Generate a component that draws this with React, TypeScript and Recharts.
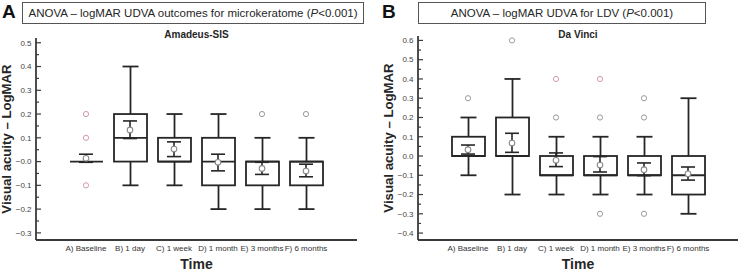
import { ComposedChart, Bar, Scatter, ErrorBar, XAxis, YAxis, Label } from 'recharts';

const FONT = '"Liberation Sans", Arial, sans-serif';
const INK = '#262626';
const AXIS = '#3a3a3a';

const categories = ['A) Baseline', 'B) 1 day', 'C) 1 week', 'D) 1 month', 'E) 3 months', 'F) 6 months'];

// Amadeus-SIS (microkeratome)
const sisWhiskerLow = [0, -0.1, -0.1, -0.2, -0.2, -0.2];
const sisQ1 = [0, 0, 0, -0.1, -0.1, -0.1];
const sisMedian = [0, 0.1, 0, 0, 0, 0];
const sisQ3 = [0, 0.2, 0.1, 0.1, 0, 0];
const sisWhiskerHigh = [0, 0.4, 0.2, 0.2, 0.1, 0.1];
const sisMean = [0.014, 0.133, 0.053, -0.003, -0.029, -0.04];
const sisCiLow = [-0.003, 0.097, 0.021, -0.039, -0.054, -0.064];
const sisCiHigh = [0.031, 0.171, 0.083, 0.031, -0.003, -0.011];
const sisOutliers = [
  { cat: 0, value: 0.2, far: true },
  { cat: 0, value: 0.1, far: true },
  { cat: 0, value: -0.1, far: true },
  { cat: 4, value: 0.2, far: false },
  { cat: 5, value: 0.2, far: false },
];

// Da Vinci (LDV)
const ldvWhiskerLow = [-0.1, -0.2, -0.2, -0.2, -0.2, -0.3];
const ldvQ1 = [0, 0, -0.1, -0.1, -0.1, -0.2];
const ldvMedian = [0, 0, -0.1, -0.1, -0.1, -0.1];
const ldvQ3 = [0.1, 0.2, 0, 0, 0, 0];
const ldvWhiskerHigh = [0.2, 0.4, 0.1, 0.1, 0.1, 0.3];
const ldvMean = [0.033, 0.067, -0.022, -0.047, -0.071, -0.092];
const ldvCiLow = [0.01, 0.019, -0.055, -0.083, -0.102, -0.125];
const ldvCiHigh = [0.057, 0.118, 0.016, -0.003, -0.036, -0.057];
const ldvOutliers = [
  { cat: 0, value: 0.3, far: false },
  { cat: 1, value: 0.6, far: false },
  { cat: 2, value: 0.4, far: true },
  { cat: 2, value: 0.2, far: false },
  { cat: 3, value: 0.4, far: true },
  { cat: 3, value: 0.2, far: false },
  { cat: 3, value: -0.3, far: false },
  { cat: 4, value: 0.3, far: false },
  { cat: 4, value: 0.2, far: false },
  { cat: 4, value: -0.3, far: false },
];

const sisTicks = [-0.3, -0.2, -0.1, 0, 0.1, 0.2, 0.3, 0.4, 0.5];
const sisTickLabels = ['\u22120.3', '\u22120.2', '\u22120.1', '\u22120.0', '0.1', '0.2', '0.3', '0.4', '0.5'];
const ldvTicks = [-0.4, -0.3, -0.2, -0.1, 0, 0.1, 0.2, 0.3, 0.4, 0.5, 0.6];
const ldvTickLabels = ['\u22120.4', '\u22120.3', '\u22120.2', '\u22120.1', '0.0', '0.1', '0.2', '0.3', '0.4', '0.5', '0.6'];

function buildRows(wlo: number[], q1: number[], med: number[], q3: number[], whi: number[], mean: number[], ciLo: number[], ciHi: number[]) {
  return categories.map((name, i) => ({
    name,
    range: [wlo[i], whi[i]],
    wlo: wlo[i],
    q1: q1[i],
    med: med[i],
    q3: q3[i],
    whi: whi[i],
    mean: mean[i],
    ciErr: [mean[i] - ciLo[i], ciHi[i] - mean[i]],
  }));
}

function withMinor(majors: number[]) {
  const out: number[] = [];
  majors.forEach((m, i) => {
    out.push(m);
    if (i < majors.length - 1) out.push(+((m + majors[i + 1]) / 2).toFixed(3));
  });
  return out;
}

const TICK_GAP = 4;

function makeYTick(majors: number[], labels: string[]) {
  return function YTick(props: any) {
    const { x, y, payload } = props;
    const v = payload.value as number;
    const idx = majors.findIndex((m) => Math.abs(m - v) < 1e-6);
    const ax = x + TICK_GAP;
    return (
      <g>
        <line x1={ax} x2={ax + (idx >= 0 ? 5 : 3)} y1={y} y2={y} stroke={AXIS} strokeWidth={1.2} />
        {idx >= 0 && (
          <text x={x - 0.5} y={y} dy="0.35em" textAnchor="end" fontSize={8} fill="#444" fontFamily={FONT}>
            {labels[idx]}
          </text>
        )}
      </g>
    );
  };
}

function BoxShape(props: any) {
  const { x, y, width, height, payload } = props;
  const { wlo, q1, med, q3, whi } = payload;
  const span = whi - wlo;
  const py = (v: number) => (span === 0 ? y : y + ((whi - v) / span) * height);
  const cx = x + width / 2;
  const cap = 8;
  return (
    <g stroke={INK} strokeWidth={1.8} fill="none">
      {whi > q3 && <line x1={cx} x2={cx} y1={py(whi)} y2={py(q3)} />}
      {wlo < q1 && <line x1={cx} x2={cx} y1={py(q1)} y2={py(wlo)} />}
      {whi > q3 && <line x1={cx - cap} x2={cx + cap} y1={py(whi)} y2={py(whi)} />}
      {wlo < q1 && <line x1={cx - cap} x2={cx + cap} y1={py(wlo)} y2={py(wlo)} />}
      {q3 > q1 && <rect x={x} y={py(q3)} width={width} height={py(q1) - py(q3)} fill="#fff" />}
      <line x1={x} x2={x + width} y1={py(med)} y2={py(med)} />
    </g>
  );
}

function MeanDot(props: any) {
  const { cx, cy } = props;
  return <circle cx={cx} cy={cy} r={2.8} fill="#fff" stroke="#8a8a8a" strokeWidth={1.1} />;
}

function OutlierDot(props: any) {
  const { cx, cy, payload } = props;
  return <circle cx={cx} cy={cy} r={2.6} fill="none" stroke={payload.far ? '#d49aa5' : '#9a9a9a'} strokeWidth={1} />;
}

function YTitle(props: any) {
  const { viewBox, bx } = props;
  const cy = viewBox.y + viewBox.height / 2;
  return (
    <text x={bx} y={cy} transform={`rotate(-90, ${bx}, ${cy})`} textAnchor="middle" fontSize={13.2} fontWeight="bold" fill={INK} fontFamily={FONT}>
      Visual acuity – LogMAR
    </text>
  );
}

function XTitle(props: any) {
  const { viewBox } = props;
  return (
    <text x={viewBox.x + viewBox.width / 2} y={269} textAnchor="middle" fontSize={14} fontWeight="bold" fill={INK} fontFamily={FONT}>
      Time
    </text>
  );
}

interface PanelProps {
  rows: any[];
  outliers: { cat: number; value: number; far: boolean }[];
  width: number;
  top: number;
  right: number;
  yWidth: number;
  domain: [number, number];
  majors: number[];
  labels: string[];
  padding: { left: number; right: number };
  titleX: number;
  subtitle: string;
}

function Panel({ rows, outliers, width, top, right, yWidth, domain, majors, labels, padding, titleX, subtitle }: PanelProps) {
  const outlierRows = outliers.map((o) => ({ name: categories[o.cat], value: o.value, far: o.far }));
  return (
    <div style={{ position: 'relative', width, height: 272 }}>
      <ComposedChart width={width} height={272} data={rows} margin={{ top, right, bottom: 0, left: 0 }}>
        <XAxis
          dataKey="name"
          type="category"
          allowDuplicatedCategory={false}
          padding={padding}
          height={32}
          tickSize={0}
          tickMargin={5}
          tickLine={false}
          axisLine={{ stroke: AXIS, strokeWidth: 1.8 }}
          tick={{ fontSize: 8, fill: '#333', fontFamily: FONT }}
          interval={0}
        >
          <Label content={<XTitle />} />
        </XAxis>
        <YAxis
          type="number"
          domain={domain}
          ticks={withMinor(majors)}
          allowDataOverflow
          width={yWidth}
          tickSize={0}
          tickMargin={TICK_GAP}
          tickLine={false}
          axisLine={{ stroke: AXIS, strokeWidth: 1.8 }}
          tick={makeYTick(majors, labels)}
          interval={0}
        >
          <Label content={<YTitle bx={titleX} />} />
        </YAxis>
        <Bar dataKey="range" barSize={33} shape={<BoxShape />} isAnimationActive={false} />
        <Scatter dataKey="mean" shape={<MeanDot />} isAnimationActive={false}>
          <ErrorBar dataKey="ciErr" direction="y" width={7} stroke={INK} strokeWidth={1.6} />
        </Scatter>
        <Scatter data={outlierRows} dataKey="value" shape={<OutlierDot />} isAnimationActive={false} />
      </ComposedChart>
      <div
        style={{
          position: 'absolute',
          top: 29,
          left: yWidth,
          width: width - yWidth - right,
          textAlign: 'center',
          fontFamily: FONT,
          fontWeight: 'bold',
          fontSize: 10,
          color: INK,
          lineHeight: '11px',
        }}
      >
        {subtitle}
      </div>
    </div>
  );
}

const boxStyle = {
  position: 'absolute' as const,
  top: 2,
  height: 20,
  border: '1px solid #555',
  fontFamily: FONT,
  fontSize: 11.5,
  lineHeight: '20px',
  color: INK,
  textAlign: 'center' as const,
  whiteSpace: 'nowrap' as const,
};

const letterStyle = {
  position: 'absolute' as const,
  top: 1,
  fontFamily: FONT,
  fontWeight: 'bold' as const,
  fontSize: 19,
  lineHeight: '22px',
  color: '#111',
};

export default function App() {
  const sisRows = buildRows(sisWhiskerLow, sisQ1, sisMedian, sisQ3, sisWhiskerHigh, sisMean, sisCiLow, sisCiHigh);
  const ldvRows = buildRows(ldvWhiskerLow, ldvQ1, ldvMedian, ldvQ3, ldvWhiskerHigh, ldvMean, ldvCiLow, ldvCiHigh);
  return (
    <div style={{ position: 'relative', width: 739, height: 272, background: '#fff', overflow: 'hidden' }}>
      <style>{'body{margin:0}'}</style>
      <div style={{ position: 'absolute', left: 0, top: 0 }}>
        <Panel
          rows={sisRows}
          outliers={sisOutliers}
          width={370}
          top={38}
          right={13}
          yWidth={36}
          domain={[-0.33, 0.52]}
          majors={sisTicks}
          labels={sisTickLabels}
          padding={{ left: 28, right: 29 }}
          titleX={11}
          subtitle="Amadeus-SIS"
        />
      </div>
      <div style={{ position: 'absolute', left: 370, top: 0 }}>
        <Panel
          rows={ldvRows}
          outliers={ldvOutliers}
          width={369}
          top={36}
          right={1}
          yWidth={48}
          domain={[-0.436, 0.623]}
          majors={ldvTicks}
          labels={ldvTickLabels}
          padding={{ left: 28, right: 28 }}
          titleX={23}
          subtitle="Da Vinci"
        />
      </div>
      <div style={{ ...letterStyle, left: 2 }}>A</div>
      <div style={{ ...boxStyle, left: 22, width: 340 }}>
        ANOVA – logMAR UDVA outcomes for microkeratome (<i>P</i>&lt;0.001)
      </div>
      <div style={{ ...letterStyle, left: 382 }}>B</div>
      <div style={{ ...boxStyle, left: 418, width: 286 }}>
        ANOVA – logMAR UDVA for LDV (<i>P</i>&lt;0.001)
      </div>
    </div>
  );
}
